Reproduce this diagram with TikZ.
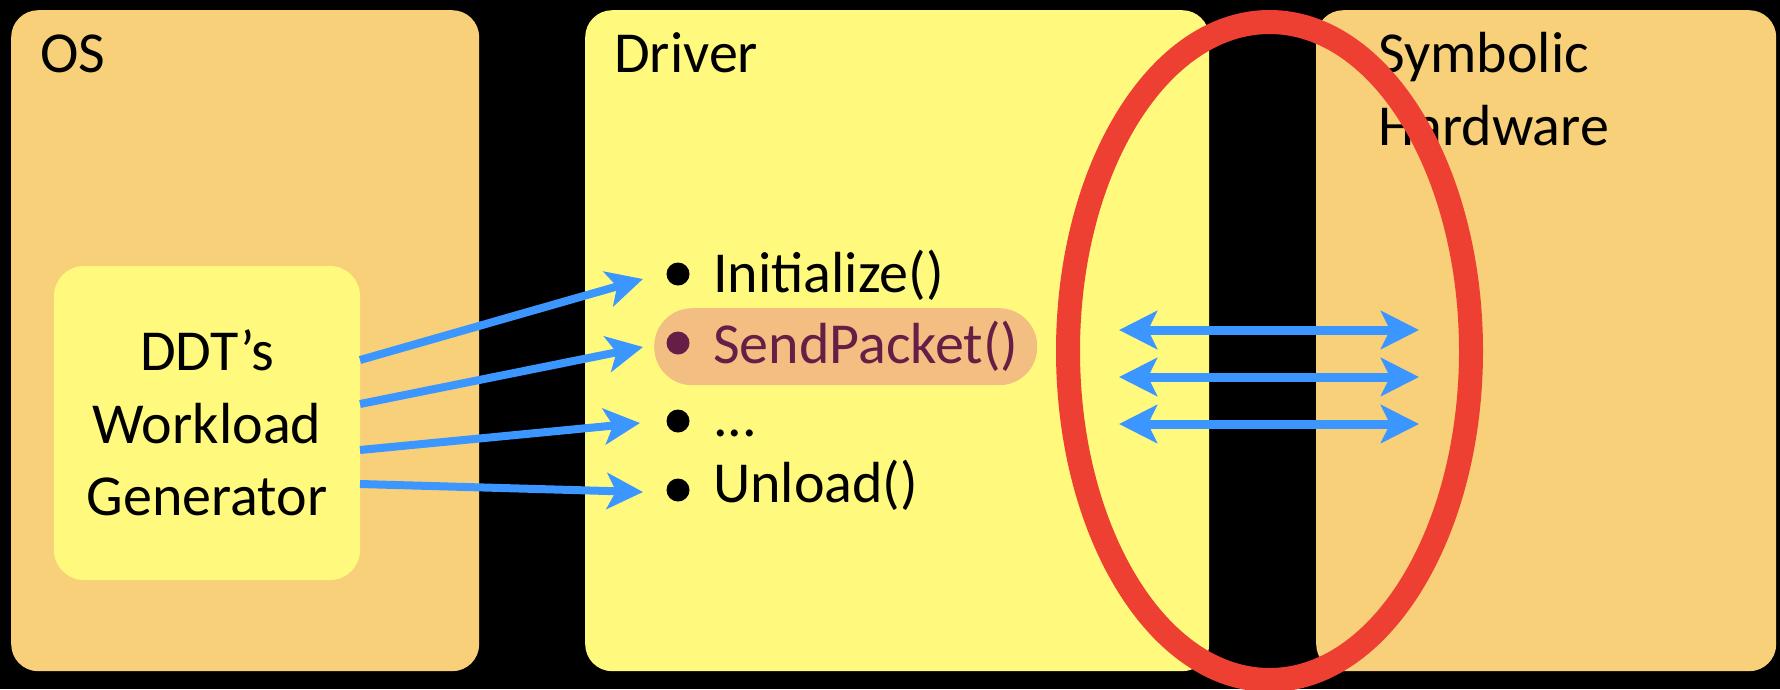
\documentclass[tikz,border=0pt]{standalone}
\usepackage{fontspec}
\setmainfont{Carlito}
\usetikzlibrary{arrows.meta}
\definecolor{osorange}{RGB}{248,208,121}
\definecolor{lightyellow}{RGB}{255,250,125}
\definecolor{hilite}{RGB}{243,190,130}
\definecolor{maroon}{RGB}{102,30,70}
\definecolor{arrowblue}{RGB}{60,150,255}
\definecolor{ringred}{RGB}{238,64,50}
\begin{document}
\begin{tikzpicture}[x=1pt,y=-1pt,
  box/.style={draw=none, rounded corners=27pt, inner sep=0pt, anchor=north west},
  lbl/.style={font=\fontsize{58}{72.5}\selectfont, inner sep=0pt, anchor=base west, text=black},
  dot/.style={circle, fill=black, minimum size=23pt, inner sep=0pt},
  feed/.style={draw=arrowblue, line width=8pt, -{Stealth[length=36pt,width=36pt,inset=9pt]}},
  dbl/.style={draw=arrowblue, line width=9pt, {Stealth[length=38pt,width=38pt,inset=9pt]}-{Stealth[length=38pt,width=38pt,inset=9pt]}}
]
\useasboundingbox (0,0) rectangle (1780,689);
\fill[black] (0,0) rectangle (1780,689);
% boxes
\node[box, fill=osorange, minimum width=468pt, minimum height=661pt] (os) at (11,10) {};
\node[box, fill=lightyellow, minimum width=624pt, minimum height=661pt] (drv) at (585,10) {};
\node[box, fill=osorange, minimum width=460pt, minimum height=661pt] (hw) at (1316,10) {};
\node[draw=none, fill=lightyellow, rounded corners=30pt, inner sep=0pt,
      minimum width=306pt, minimum height=314pt, align=center,
      font=\fontsize{58}{72.5}\selectfont] (gen) at (207,423) {DDT’s\\Workload\\Generator};
% titles
\node[lbl] (ostxt) at (40,72) {OS};
\node[lbl] (drvtxt) at (614,72) {Driver};
\node[lbl, align=left] (hwtxt) at (1378,145) {Symbolic\\Hardware};
% highlight
\node[draw=none, fill=hilite, rounded corners=38pt, inner sep=0pt, anchor=north west,
      minimum width=383pt, minimum height=77pt] (hl) at (654,308) {};
% list
\node[dot] (b1) at (678,274) {};
\node[dot, fill=maroon] (b2) at (678,343) {};
\node[dot] (b3) at (678,421) {};
\node[dot] (b4) at (678,490) {};
\node[lbl] (i1) at (713,292) {Initialize()};
\node[lbl, text=maroon] (i2) at (713,363) {SendPacket()};
\node[lbl] (i3) at (713,436) {...};
\node[lbl] (i4) at (713,502) {Unload()};
% feed arrows
\coordinate (s1) at (360,360);
\coordinate (s2) at (360,404);
\coordinate (s3) at (360,450);
\coordinate (s4) at (360,484);
\coordinate (t1) at (643,279);
\coordinate (t2) at (643,347);
\coordinate (t3) at (640,423);
\coordinate (t4) at (643,492);
\draw[feed] (s1) -- (t1);
\draw[feed] (s2) -- (t2);
\draw[feed] (s3) -- (t3);
\draw[feed] (s4) -- (t4);
% red ring
\draw[ringred, line width=24pt] (1269.5,351) ellipse [x radius=201.5, y radius=329];
% double arrows
\coordinate (l1) at (1119,330);
\coordinate (r1) at (1419,330);
\coordinate (l2) at (1119,377);
\coordinate (r2) at (1419,377);
\coordinate (l3) at (1119,424);
\coordinate (r3) at (1419,424);
\draw[dbl] (l1) -- (r1);
\draw[dbl] (l2) -- (r2);
\draw[dbl] (l3) -- (r3);
\end{tikzpicture}
\end{document}
